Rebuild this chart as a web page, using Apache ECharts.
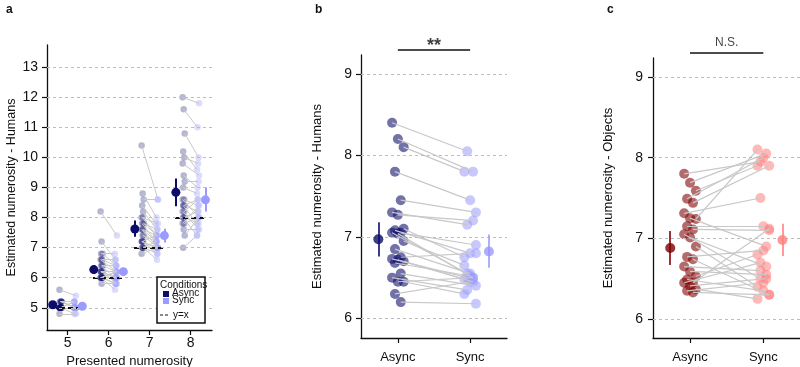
<!DOCTYPE html>
<html>
<head>
<meta charset="utf-8">
<script src="https://cdn.jsdelivr.net/npm/echarts@6/dist/echarts.min.js"></script>
<style>
html, body { margin: 0; padding: 0; background: #fff; }
#chart { width: 800px; height: 367px; }
</style>
</head>
<body>
<div id="chart"></div>
<script>
// ---- panel a: per participant estimates for each presented numerosity
const numerosities = [5, 6, 7, 8];
const yTicksA = [5, 6, 7, 8, 9, 10, 11, 12, 13];

const asyncN5 = [5.6, 5.2, 5.2, 5.2, 5.2, 5.0, 5.0, 5.0, 5.0, 5.0, 5.0, 5.0, 5.0, 5.0, 5.0, 5.0, 5.0, 5.2, 5.0, 5.0, 4.8, 5.0, 5.2, 5.0];
const syncN5 = [5.4, 5.2, 5.0, 5.2, 5.0, 5.0, 5.2, 5.0, 5.0, 5.0, 5.0, 4.8, 5.0, 5.0, 5.0, 5.0, 5.2, 5.0, 5.0, 5.0, 4.8, 5.0, 5.0, 5.0];
const asyncN6 = [8.2, 7.2, 6.8, 6.8, 6.6, 6.6, 6.6, 6.4, 6.4, 6.4, 6.2, 6.2, 6.2, 6.2, 6.0, 6.0, 6.0, 6.0, 6.0, 6.0, 6.0, 5.8, 6.0, 6.2];
const syncN6 = [7.4, 6.6, 6.4, 6.8, 6.4, 6.2, 6.6, 6.2, 6.0, 6.4, 6.0, 6.2, 5.8, 6.0, 6.2, 6.0, 5.8, 6.0, 5.6, 6.0, 6.2, 5.8, 5.8, 6.0];
const asyncN7 = [10.4, 8.8, 8.6, 8.4, 8.2, 8.0, 8.0, 7.8, 7.8, 7.6, 7.6, 7.4, 7.4, 7.2, 7.2, 7.2, 7.0, 7.0, 7.0, 7.0, 6.8, 7.6, 7.8, 7.2];
const syncN7 = [8.6, 8.0, 8.6, 7.8, 7.6, 7.8, 7.4, 7.6, 7.2, 7.4, 7.0, 7.2, 7.0, 7.4, 6.8, 7.0, 7.2, 6.8, 7.0, 6.6, 7.0, 7.2, 7.4, 7.0];
const asyncN8 = [12.0, 11.6, 10.8, 10.2, 10.0, 9.8, 9.4, 9.2, 9.0, 8.6, 8.6, 8.4, 8.4, 8.4, 8.2, 8.2, 8.0, 8.0, 8.0, 7.8, 7.8, 7.6, 7.4, 7.0];
const syncN8 = [11.8, 11.0, 10.0, 9.6, 9.8, 9.4, 9.0, 9.2, 8.8, 8.4, 8.0, 8.6, 8.2, 7.8, 8.6, 7.6, 8.2, 7.8, 7.4, 8.0, 8.4, 7.6, 8.0, 7.4];

const meanAsyncA = [5.10, 6.27, 7.62, 8.84];
const lowAsyncA = [5.05, 6.12, 7.36, 8.38];
const highAsyncA = [5.15, 6.42, 7.90, 9.30];
const meanSyncA = [5.05, 6.20, 7.40, 8.59];
const lowSyncA = [5.01, 6.13, 7.17, 8.20];
const highSyncA = [5.09, 6.27, 7.63, 9.00];

// ---- panels b and c
const conditions = ['Async', 'Sync'];
const yTicksBC = [6, 7, 8, 9];

const humansAsync = [8.40, 8.20, 8.10, 7.80, 7.45, 7.30, 7.27, 7.10, 7.08, 7.05, 7.05, 7.04, 6.95, 6.85, 6.75, 6.73, 6.72, 6.70, 6.68, 6.55, 6.50, 6.45, 6.45, 6.30, 6.20];
const humansSync = [8.05, 7.80, 7.80, 7.45, 7.30, 7.15, 7.20, 6.75, 6.80, 6.90, 6.55, 6.50, 6.65, 6.55, 6.80, 6.50, 6.45, 6.48, 6.52, 6.40, 6.35, 6.50, 6.30, 6.45, 6.18];
const humansMean = [6.97, 6.82];
const humansLow = [6.76, 6.62];
const humansHigh = [7.18, 7.03];

const objectsAsync = [7.80, 7.69, 7.59, 7.49, 7.44, 7.31, 7.25, 7.24, 7.15, 7.11, 7.05, 7.01, 6.90, 6.77, 6.74, 6.65, 6.59, 6.53, 6.49, 6.45, 6.45, 6.41, 6.37, 6.35, 6.33];
const objectsSync = [7.95, 8.05, 7.90, 8.00, 7.90, 7.50, 6.90, 8.10, 7.15, 7.10, 6.50, 6.65, 6.40, 6.85, 6.30, 6.60, 6.55, 6.80, 6.35, 7.12, 6.70, 6.50, 6.25, 6.45, 6.30];
const objectsMean = [6.88, 6.98];
const objectsLow = [6.67, 6.78];
const objectsHigh = [7.09, 7.18];

const FONT = "'Liberation Sans', Arial, sans-serif";
const NAVY = '#0c0c6a';
const PERI = '#9a9aff';
const DARKRED = '#800000';
const SALMON = '#ff7f7f';
const PAIR_GRAY = '#c8c8c8';
const INK = '#111';

// fixed little side shift so points don't sit on one column
const jitter = (i, w) => ((((i * 7) % 5) - 2) / 2) * w;

const chart = echarts.init(document.getElementById('chart'));

const gridLines = (idx, ticks) => ({
    type: 'line', xAxisIndex: idx, yAxisIndex: idx, data: [], silent: true, z: 1,
    markLine: {
        silent: true, symbol: 'none', animation: false,
        label: { show: false },
        lineStyle: { color: '#bdbdbd', type: [3, 3], width: 1 },
        data: ticks.map(v => ({ yAxis: v }))
    }
});

const points = (idx, pts, color, opacity, size, z) => ({
    type: 'scatter', xAxisIndex: idx, yAxisIndex: idx, data: pts, symbolSize: size, z: z, silent: true,
    itemStyle: { color: color, opacity: opacity }
});

const segs = (idx, list, color, width, z, dash) => ({
    type: 'lines', coordinateSystem: 'cartesian2d', xAxisIndex: idx, yAxisIndex: idx, z: z, silent: true,
    clip: false,
    lineStyle: { color: color, width: width, opacity: 1, type: dash || 'solid' },
    data: list.map(c => ({ coords: c }))
});

let series = [];

// panel a
series.push(gridLines(0, yTicksA));
const asyncA = [asyncN5, asyncN6, asyncN7, asyncN8];
const syncA = [syncN5, syncN6, syncN7, syncN8];
numerosities.forEach((n, k) => {
    const ax = asyncA[k].map((v, i) => [n - 0.17 + jitter(i, 0.025), v]);
    const sx = syncA[k].map((v, i) => [n + 0.18 + jitter(i + 2, 0.025), v]);
    series.push(points(0, ax, NAVY, 0.3, 6.5, 2));
    series.push(points(0, sx, PERI, 0.35, 6.5, 2));
    series.push(segs(0, ax.map((p, i) => [p, sx[i]]), PAIR_GRAY, 1, 3));
});
series.push(segs(0, numerosities.map(n => [[n - 0.38, n], [n + 0.36, n]]), INK, 2, 4, [5, 3]));
series.push(segs(0, numerosities.map((n, k) => [[n - 0.36, lowAsyncA[k]], [n - 0.36, highAsyncA[k]]]), NAVY, 2, 5));
series.push(segs(0, numerosities.map((n, k) => [[n + 0.36, lowSyncA[k]], [n + 0.36, highSyncA[k]]]), PERI, 2, 5));
series.push(points(0, numerosities.map((n, k) => [n - 0.36, meanAsyncA[k]]), NAVY, 1, 9, 6));
series.push(points(0, numerosities.map((n, k) => [n + 0.36, meanSyncA[k]]), PERI, 1, 9, 6));

// panels b and c
const pairedPanel = (idx, av, sv, mean, low, high, cA, cS, mark, markSize, markOff) => {
    const ax = av.map((v, i) => [1 + jitter(i, 0.08), v]);
    const sx = sv.map((v, i) => [2 + jitter(i + 3, 0.08), v]);
    series.push(gridLines(idx, yTicksBC));
    series.push(points(idx, ax, cA, 0.58, 10, 2));
    series.push(points(idx, sx, cS, 0.55, 10, 2));
    series.push(segs(idx, ax.map((p, i) => [p, sx[i]]), PAIR_GRAY, 1.2, 3));
    const mx = [0.73, 2.26];
    series.push(segs(idx, mx.map((x, j) => [[x, low[j]], [x, high[j]]]), null, 1.6, 5));
    series[series.length - 1].data = mx.map((x, j) => ({
        coords: [[x, low[j]], [x, high[j]]], lineStyle: { color: j === 0 ? cA : cS }
    }));
    series.push({
        type: 'scatter', xAxisIndex: idx, yAxisIndex: idx, symbolSize: 10, z: 6, silent: true,
        data: mx.map((x, j) => ({ value: [x, mean[j]], itemStyle: { color: j === 0 ? cA : cS } }))
    });
    // significance bracket above the plot
    series.push(segs(idx, [[[1, 9.30], [2, 9.30]]], INK, 1.5, 5));
    series.push({
        type: 'scatter', xAxisIndex: idx, yAxisIndex: idx, symbolSize: 1, clip: false, silent: true, z: 6,
        itemStyle: { color: 'rgba(0,0,0,0)' },
        data: [[1.5, 9.30]],
        label: {
            show: true, position: 'inside', offset: [0, markOff], formatter: mark,
            fontFamily: FONT, fontSize: markSize, fontWeight: mark === '**' ? 'bold' : 'normal', color: INK
        }
    });
};
pairedPanel(1, humansAsync, humansSync, humansMean, humansLow, humansHigh, NAVY, PERI, '**', 18, -3);
pairedPanel(2, objectsAsync, objectsSync, objectsMean, objectsLow, objectsHigh, DARKRED, SALMON, 'N.S.', 12, -10);

const axisLine = { show: true, onZero: false, lineStyle: { color: INK, width: 1.3 } };
const tick = vals => ({ show: true, length: 5, customValues: vals, lineStyle: { color: INK, width: 1.2 } });
const label = (vals, margin, size, fmt) => ({
    customValues: vals, margin: margin, fontSize: size, fontFamily: FONT, color: INK, formatter: fmt
});
const nameStyle = size => ({ fontSize: size, fontFamily: FONT, color: INK });

const option = {
    animation: false,
    grid: [
        { left: 47, top: 45, width: 165, height: 285, outerBoundsMode: 'none' },
        { left: 361, top: 55, width: 146, height: 283, outerBoundsMode: 'none' },
        { left: 653, top: 58, width: 147, height: 280, outerBoundsMode: 'none' }
    ],
    xAxis: [
        {
            gridIndex: 0, type: 'value', min: 4.5, max: 8.52,
            axisLine: axisLine, axisTick: tick(numerosities), axisLabel: label(numerosities, 6, 14),
            splitLine: { show: false },
            name: 'Presented numerosity', nameLocation: 'middle', nameGap: 20, nameTextStyle: nameStyle(13)
        },
        {
            gridIndex: 1, type: 'value', min: 0.49, max: 2.51,
            axisLine: axisLine, axisTick: tick([1, 2]),
            axisLabel: label([1, 2], 13, 13, v => conditions[Math.round(v) - 1]),
            splitLine: { show: false }
        },
        {
            gridIndex: 2, type: 'value', min: 0.495, max: 2.5,
            axisLine: axisLine, axisTick: tick([1, 2]),
            axisLabel: label([1, 2], 13, 13, v => conditions[Math.round(v) - 1]),
            splitLine: { show: false }
        }
    ],
    yAxis: [
        {
            gridIndex: 0, type: 'value', min: 4.26, max: 13.74,
            axisLine: axisLine, axisTick: tick(yTicksA), axisLabel: label(yTicksA, 9, 14),
            splitLine: { show: false },
            name: 'Estimated numerosity - Humans', nameLocation: 'middle', nameGap: 29, nameTextStyle: nameStyle(12.5)
        },
        {
            gridIndex: 1, type: 'value', min: 5.76, max: 9.23,
            axisLine: axisLine, axisTick: tick(yTicksBC), axisLabel: label(yTicksBC, 9, 14),
            splitLine: { show: false },
            name: 'Estimated numerosity - Humans', nameLocation: 'middle', nameGap: 37, nameTextStyle: nameStyle(13)
        },
        {
            gridIndex: 2, type: 'value', min: 5.765, max: 9.235,
            axisLine: axisLine, axisTick: tick(yTicksBC), axisLabel: label(yTicksBC, 10, 14),
            splitLine: { show: false },
            name: 'Estimated numerosity - Objects', nameLocation: 'middle', nameGap: 38, nameTextStyle: nameStyle(13)
        }
    ],
    graphic: [
        { type: 'text', x: 6, y: 4, z: 100, style: { text: 'a', font: 'bold 12px ' + FONT, fill: INK } },
        { type: 'text', x: 315, y: 4, z: 100, style: { text: 'b', font: 'bold 12px ' + FONT, fill: INK } },
        { type: 'text', x: 607, y: 4, z: 100, style: { text: 'c', font: 'bold 12px ' + FONT, fill: INK } },
        // legend box of panel a
        {
            type: 'group', x: 157, y: 277, z: 100,
            children: [
                { type: 'rect', z: 100, shape: { x: 0, y: 0, width: 48, height: 46 }, style: { fill: '#fff', stroke: INK, lineWidth: 1.5 } },
                { type: 'text', z: 101, x: 3, y: 3, style: { text: 'Conditions', font: '10px ' + FONT, fill: INK } },
                { type: 'rect', z: 101, shape: { x: 6, y: 14, width: 6, height: 6 }, style: { fill: NAVY } },
                { type: 'text', z: 101, x: 15, y: 11, style: { text: 'Async', font: '10px ' + FONT, fill: INK } },
                { type: 'rect', z: 101, shape: { x: 6, y: 21, width: 6, height: 6 }, style: { fill: PERI } },
                { type: 'text', z: 101, x: 15, y: 18, style: { text: 'Sync', font: '10px ' + FONT, fill: INK } },
                { type: 'line', z: 101, shape: { x1: 3, y1: 38, x2: 13, y2: 38 }, style: { stroke: INK, lineWidth: 1, lineDash: [3, 2] } },
                { type: 'text', z: 101, x: 16, y: 33, style: { text: 'y=x', font: '10px ' + FONT, fill: INK } }
            ]
        }
    ],
    series: series
};

chart.setOption(option);
</script>
</body>
</html>
